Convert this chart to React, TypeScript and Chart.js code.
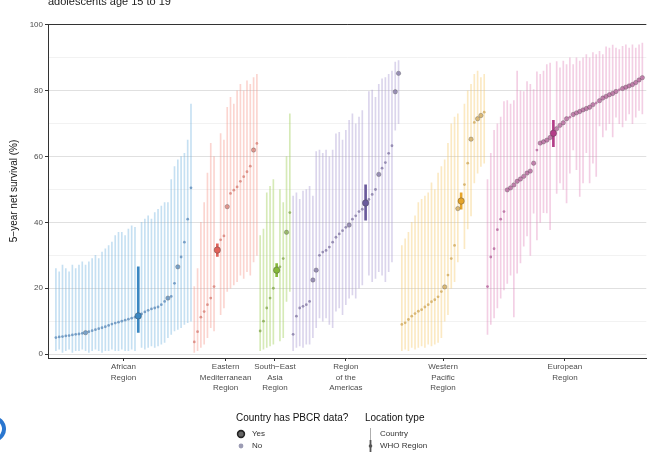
import React, { useEffect, useRef } from 'react';
import { Chart, registerables } from 'chart.js';

Chart.register(...registerables);

const FONT = '"Liberation Sans", Arial, Helvetica, sans-serif';

// ---------- data ----------
const regionTickLabels: string[][] = [
  ['African', 'Region'],
  ['Eastern', 'Mediterranean', 'Region'],
  ['South\u2212East', 'Asia', 'Region'],
  ['Region', 'of the', 'Americas'],
  ['Western', 'Pacific', 'Region'],
  ['European', 'Region'],
];

const yGridValues = [0, 10, 20, 30, 40, 50, 60, 70, 80, 90, 100];
const yLabelValues = [0, 20, 40, 60, 80, 100];

// kind: N = country without PBCR data, Y = country with PBCR data, R = WHO region estimate
const afrEst = [5.0, 5.2, 5.3, 5.5, 5.6, 5.8, 6.0, 6.1, 6.3, 6.5, 6.8, 7.1, 7.4, 7.7, 8.0, 8.3, 8.7, 9.1, 9.4, 9.7, 10.0, 10.3, 10.6, 10.9, 11.2, 11.6, 12.2, 12.8, 13.3, 13.7, 14.0, 14.3, 15.0, 16.0, 17.0, 17.5, 21.5, 26.5, 29.5, 34.0, 41.0, 50.5];
const afrHi = [26, 25, 27, 26, 25, 27, 26, 27, 28, 27, 28, 29, 30, 29, 31, 32, 33, 34, 36, 37, 37, 36, 38, 39, 38.5, 26.5, 40, 41, 42, 41, 43, 44, 45, 46, 46, 53, 57, 59, 60, 61, 65, 76];
const afrLo = [1, 1.5, 0.5, 1, 1.5, 0.5, 1, 1, 1.5, 1, 0.5, 1, 1.5, 1, 0.5, 1, 1, 1.5, 1, 1, 1.5, 1, 1, 1.5, 1, 6.6, 2, 1.5, 2, 2.5, 2, 2.5, 3, 3.5, 5, 6, 7, 7.5, 8, 9, 9.5, 10];
const afrKind = 'NNNNNNNNNYNNNNNNNNNNNNNNNRNNNNNNNNYNNYNNNN'.split('');

const emrEst = [3.7, 6.8, 11.2, 12.9, 15.0, 17.0, 20.5, 31.6, 34.7, 35.9, 44.8, 48.8, 49.8, 50.8, 52.5, 53.9, 55.4, 57.1, 62.0, 64.0];
const emrHi = [20.5, 26, 40, 46, 55, 64, 60, 33.5, 67, 65, 75, 78, 76, 80, 82, 80, 83, 82, 84, 85];
const emrLo = [0.5, 1, 2, 3, 5, 8, 7, 29.7, 12, 14, 19, 20, 21, 22, 24, 23, 25, 24, 28, 30];
const emrKind = 'NNNNNNNRNNYNNNNNNNYN'.split('');

const searEst = [7, 10, 14, 17, 20, 25.5, 26.5, 29, 37, 43];
const searHi = [36, 38, 49, 51, 53, 27.5, 50, 46, 60, 73];
const searLo = [1, 1.5, 2, 2.5, 3, 23.5, 4, 5, 16, 19];
const searKind = 'NNNNNRNNYN'.split('');

const amrEst = [6, 11.5, 14, 14.5, 15, 16, 22.5, 25.5, 30, 31, 31.5, 32.5, 34, 35.5, 36.5, 37.5, 38.5, 39.2, 41, 42, 43.3, 44, 45.9, 47, 48.5, 50, 54.6, 56.5, 58.2, 61, 63.3, 79.7, 85.3];
const amrHi = [48, 49, 47, 49.5, 50, 51, 48, 61.5, 62, 61, 62, 60, 62, 66.9, 67.4, 65, 68, 71, 73, 70, 72, 74, 51.4, 79.8, 80.2, 78, 82, 83.6, 84, 85, 86, 88.7, 89.2];
const amrLo = [1, 2, 2.5, 2, 3, 3, 5, 8, 11, 10, 11, 9, 8, 13, 14, 12, 15, 17, 18, 17, 20, 21, 40.7, 24, 22, 23, 25, 24, 22, 25, 28, 68, 70];
const amrKind = 'NNNNNNYYNNNNNNNNNYNNNNRNNNYNNNNYY'.split('');

const wprEst = [9, 9.5, 10.5, 11.5, 12.3, 13, 13.5, 14.3, 15, 15.9, 16.5, 17.4, 19, 20.4, 24, 29, 33, 44.2, 46.5, 51.5, 58, 65.3, 70.4, 71.5, 72.5, 73.5];
const wprHi = [33, 35, 37, 40, 42, 46, 47, 48, 49, 52, 50, 55, 57, 59, 64, 70, 72, 73, 49, 76, 80, 82, 85, 86, 84, 85];
const wprLo = [1, 1.5, 1, 2, 1.5, 2, 2.5, 2, 3, 2.5, 3, 3.5, 5, 10, 12, 20, 22, 28, 44, 32, 38, 42, 52, 55, 57, 58];
const wprKind = 'NNNNNNNNNNNNNYNNNYRNNYNYYN'.split('');

const eurEst = [20.5, 29.5, 32, 37.8, 41, 43.3, 49.9, 50.5, 51.4, 52.5, 53.2, 54, 55, 55.6, 58, 62, 64.1, 64.5, 65, 65.8, 67.1, 68.5, 69.5, 70.3, 71.5, 72, 72.8, 73.3, 73.7, 74.2, 74.6, 75, 75.8, 76.3, 77, 77.8, 78.3, 78.8, 79.2, 79.8, 80.3, 80.7, 81.1, 81.5, 81.9, 82.5, 83.3, 84];
const eurHi = [53, 61, 68, 70, 72, 76.7, 77, 76, 77, 86, 80, 79.8, 82.8, 82, 80.4, 85.8, 85, 86, 88, 88.4, 71, 88.9, 87, 89, 88, 90, 88, 90, 89, 90, 91, 90, 91.6, 91, 92, 91, 93.4, 93, 93.9, 93, 92.5, 93.5, 94, 93, 94, 93, 94, 94.5];
const eurLo = [6, 9, 11, 14, 17, 19.5, 21.5, 24, 11.3, 24.6, 27.7, 32.8, 35.9, 30, 42.8, 34.7, 40, 43, 42.9, 37.8, 63, 48.8, 52, 50, 45.9, 55, 62, 56, 47.9, 52, 61.2, 52, 58, 54, 69.3, 66, 68, 70, 66, 72, 70, 69, 71, 73, 70, 72, 74, 73];
const eurKind = 'NNNNNNYYYYYYYYYNYYYYRYYYYNYYYYYYYNYYYYYYNYYYYYYY'.split('');

const regions = [
  { est: afrEst, lo: afrLo, hi: afrHi, kind: afrKind },
  { est: emrEst, lo: emrLo, hi: emrHi, kind: emrKind },
  { est: searEst, lo: searLo, hi: searHi, kind: searKind },
  { est: amrEst, lo: amrLo, hi: amrHi, kind: amrKind },
  { est: wprEst, lo: wprLo, hi: wprHi, kind: wprKind },
  { est: eurEst, lo: eurLo, hi: eurHi, kind: eurKind },
];

// ---------- styles ----------
const regionStyles = [
  { line: 'rgba(120,180,225,0.42)', point: 'rgba(80,130,180,0.7)', strong: '#3b87c2' },
  { line: 'rgba(245,150,138,0.4)', point: 'rgba(210,115,105,0.7)', strong: '#e0625a' },
  { line: 'rgba(165,208,95,0.45)', point: 'rgba(130,165,75,0.75)', strong: '#86b83a' },
  { line: 'rgba(170,155,210,0.42)', point: 'rgba(125,115,160,0.75)', strong: '#6a5a9c' },
  { line: 'rgba(245,200,105,0.4)', point: 'rgba(205,165,85,0.75)', strong: '#e6a52a' },
  { line: 'rgba(225,135,188,0.4)', point: 'rgba(175,95,150,0.75)', strong: '#b33d88' },
];

const decorPlugin = {
  id: 'decor',
  afterDraw(chart: any) {
    const ctx = chart.ctx as CanvasRenderingContext2D;
    const a = chart.chartArea;
    ctx.save();
    // top panel border
    ctx.strokeStyle = '#333';
    ctx.lineWidth = 1;
    ctx.beginPath();
    ctx.moveTo(a.left, a.top + 0.5);
    ctx.lineTo(a.right, a.top + 0.5);
    ctx.stroke();

    // clipped title
    ctx.fillStyle = '#222';
    ctx.font = `11px ${FONT}`;
    ctx.textAlign = 'left';
    ctx.textBaseline = 'alphabetic';
    ctx.fillText('adolescents age 15 to 19', 48, 5);

    // y axis title
    ctx.save();
    ctx.translate(14, (a.top + a.bottom) / 2);
    ctx.rotate(-Math.PI / 2);
    ctx.textAlign = 'center';
    ctx.textBaseline = 'middle';
    ctx.font = `10px ${FONT}`;
    ctx.fillStyle = '#111';
    ctx.fillText('5\u2212year net survival (%)', 0, 0);
    ctx.restore();

    // legend titles
    ctx.fillStyle = '#111';
    ctx.font = `10px ${FONT}`;
    ctx.textAlign = 'left';
    ctx.fillText('Country has PBCR data?', 236, 421);
    ctx.fillText('Location type', 365, 421);

    ctx.font = `8px ${FONT}`;
    ctx.fillStyle = '#333';
    ctx.textBaseline = 'middle';
    ctx.fillText('Yes', 252, 434);
    ctx.fillText('No', 252, 446);
    ctx.fillText('Country', 380, 434);
    ctx.fillText('WHO Region', 380, 446);

    ctx.beginPath();
    ctx.arc(241, 434, 3.4, 0, Math.PI * 2);
    ctx.fillStyle = '#666';
    ctx.fill();
    ctx.lineWidth = 1.6;
    ctx.strokeStyle = '#222';
    ctx.stroke();

    ctx.beginPath();
    ctx.arc(241, 446, 2.4, 0, Math.PI * 2);
    ctx.fillStyle = '#9c9cb4';
    ctx.fill();

    // legend 2 symbols
    ctx.strokeStyle = '#999';
    ctx.lineWidth = 0.8;
    ctx.beginPath();
    ctx.moveTo(370.5, 428);
    ctx.lineTo(370.5, 440);
    ctx.stroke();

    ctx.strokeStyle = '#555';
    ctx.lineWidth = 1.8;
    ctx.beginPath();
    ctx.moveTo(370.5, 440);
    ctx.lineTo(370.5, 452);
    ctx.stroke();
    ctx.beginPath();
    ctx.arc(370.5, 446, 1.8, 0, Math.PI * 2);
    ctx.fillStyle = '#555';
    ctx.fill();

    // blue fragment at left edge
    ctx.beginPath();
    ctx.arc(-7, 429, 11, -1.0, 1.0);
    ctx.strokeStyle = '#2a76cf';
    ctx.lineWidth = 4;
    ctx.stroke();

    ctx.restore();
  },
};

export default function App() {
  const ref = useRef<HTMLCanvasElement>(null);

  useEffect(() => {
    const canvas = ref.current;
    if (!canvas) return;
    const datasets: any[] = [];
    const centers: number[] = [];
    let offset = 0;
    regions.forEach((r, ri) => {
      const st = regionStyles[ri];
      const n = r.est.length;
      centers.push(offset + (n - 1) / 2);
      const barsC: any[] = [];
      const barsR: any[] = [];
      const ptsN: any[] = [];
      const ptsY: any[] = [];
      const ptsR: any[] = [];
      for (let j = 0; j < n; j++) {
        const x = offset + j;
        const k = r.kind[j];
        if (k === 'R') {
          barsR.push({ x, y: [r.lo[j], r.hi[j]] });
          ptsR.push({ x, y: r.est[j] });
        } else {
          barsC.push({ x, y: [r.lo[j], r.hi[j]] });
          (k === 'Y' ? ptsY : ptsN).push({ x, y: r.est[j] });
        }
      }
      datasets.push({
        type: 'bar', data: barsC, backgroundColor: st.line, borderWidth: 0,
        barThickness: 1, grouped: false, order: 6,
      });
      datasets.push({
        type: 'bar', data: barsR, backgroundColor: st.strong, borderWidth: 0,
        barThickness: 2, grouped: false, order: 5,
      });
      datasets.push({
        type: 'scatter', data: ptsN, showLine: false, pointRadius: 1.4,
        pointBackgroundColor: st.point, pointBorderWidth: 0, order: 3,
      });
      datasets.push({
        type: 'scatter', data: ptsY, showLine: false, pointRadius: 2.2,
        pointBackgroundColor: st.point, pointBorderColor: 'rgba(70,70,70,0.5)',
        pointBorderWidth: 0.6, order: 2,
      });
      datasets.push({
        type: 'scatter', data: ptsR, showLine: false, pointRadius: 3.2,
        pointBackgroundColor: st.strong, pointBorderColor: 'rgba(60,60,60,0.5)',
        pointBorderWidth: 0.7, order: 1,
      });
      offset += n;
    });

    const chart = new Chart(canvas, {
      type: 'scatter',
      data: { datasets },
      plugins: [decorPlugin],
      options: {
        animation: false,
        responsive: false,
        devicePixelRatio: 1,
        layout: { padding: { top: 24, right: 0, bottom: 0, left: 0 } },
        plugins: { legend: { display: false }, tooltip: { enabled: false }, title: { display: false } },
        scales: {
          x: {
            type: 'linear',
            min: -2.4,
            max: 179.2,
            offset: false,
            afterBuildTicks: (s: any) => {
              s.ticks = centers.map((v) => ({ value: v }));
            },
            afterFit: (s: any) => {
              s.height = 94;
            },
            grid: { offset: false, drawOnChartArea: false, tickLength: 3, tickColor: '#333' },
            border: { display: true, color: '#333', width: 1 },
            ticks: {
              autoSkip: false,
              maxRotation: 0,
              minRotation: 0,
              padding: 1,
              color: '#4d4d4d',
              font: { family: FONT, size: 8, lineHeight: 1.3 },
              callback: (_v: any, i: number) => regionTickLabels[i],
            },
          },
          y: {
            type: 'linear',
            min: -1.2,
            max: 100.3,
            afterBuildTicks: (s: any) => {
              s.ticks = yGridValues.map((v) => ({ value: v }));
            },
            afterFit: (s: any) => {
              s.width = 48;
            },
            grid: {
              offset: false,
              color: (c: any) => (c.tick && c.tick.value % 20 === 0 ? '#e0e0e0' : '#f2f2f2'),
              tickColor: (c: any) => (c.tick && c.tick.value % 20 === 0 ? '#333' : 'rgba(0,0,0,0)'),
              tickLength: 3,
              lineWidth: 1,
            },
            border: { display: true, color: '#333', width: 1 },
            ticks: {
              padding: 2,
              color: '#4d4d4d',
              font: { family: FONT, size: 8 },
              callback: (v: any) => (yLabelValues.includes(Number(v)) ? String(v) : ''),
            },
          },
        },
      } as any,
    });
    return () => chart.destroy();
  }, []);

  return (
    <div style={{ position: 'fixed', left: 0, top: 0, width: 651, height: 452, background: '#fff' }}>
      <canvas ref={ref} width={651} height={452} style={{ display: 'block', width: 651, height: 452 }} />
    </div>
  );
}
